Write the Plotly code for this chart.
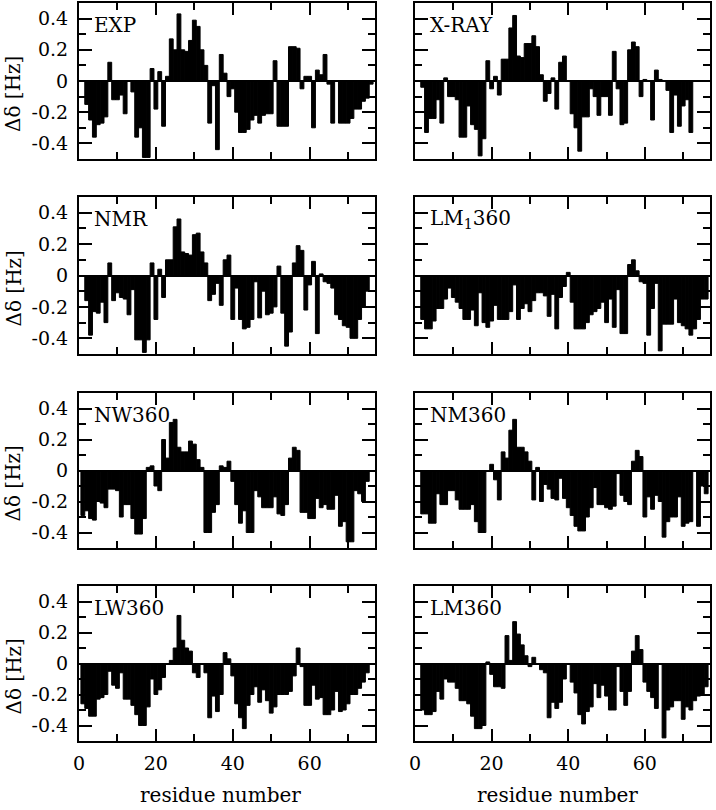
import plotly.graph_objects as go

# ---------------- data (residue numbers start at *_first) ----------------
exp_first = 2
exp_vals = [-0.15,-0.25,-0.36,-0.28,-0.27,-0.23,0.12,-0.12,-0.12,-0.09,
            -0.21,None,-0.07,-0.36,-0.30,-0.49,-0.49,0.08,-0.18,0.06,
            -0.29,0.03,0.27,0.20,0.43,0.20,0.19,0.26,0.39,0.35,
            0.20,0.10,-0.27,-0.03,-0.44,0.17,0.05,-0.10,-0.05,-0.20,
            -0.33,-0.33,-0.31,-0.25,-0.22,-0.27,-0.22,-0.21,-0.21,0.13,
            -0.29,-0.29,-0.29,0.22,0.22,0.21,-0.05,0.03,0.03,-0.30,
            0.07,0.04,0.17,-0.02,-0.27,None,-0.27,-0.27,-0.27,-0.24,
            -0.18,-0.18,-0.13,-0.11,-0.02]

xray_first = 2
xray_vals = [-0.04,-0.33,-0.24,-0.24,-0.12,-0.27,0.02,-0.10,-0.10,-0.12,
             -0.36,-0.36,-0.16,-0.28,-0.31,-0.48,-0.37,0.13,-0.05,0.03,
             -0.09,0.14,0.14,0.34,0.42,0.16,0.15,0.24,0.24,0.29,
             0.22,0.04,-0.13,-0.08,0.02,-0.18,0.12,0.16,None,-0.21,
             -0.30,-0.45,-0.23,-0.23,-0.05,-0.10,-0.22,-0.10,-0.10,-0.22,
             0.19,-0.05,-0.28,-0.27,0.20,0.25,0.22,-0.10,0.01,0.0,
             -0.25,0.07,0.01,None,-0.06,-0.33,-0.09,-0.29,-0.16,-0.12,
             -0.33]

nmr_first = 2
nmr_vals = [-0.16,-0.38,-0.23,-0.24,-0.17,-0.30,0.08,-0.16,-0.11,-0.14,
            -0.15,-0.25,-0.09,-0.41,-0.41,-0.49,-0.41,0.08,-0.28,0.04,
            -0.14,0.10,0.10,0.31,0.36,0.15,0.14,0.13,0.26,0.27,
            0.15,0.08,-0.16,-0.12,-0.05,-0.19,0.10,0.13,-0.28,-0.08,
            -0.28,-0.34,-0.33,-0.28,-0.04,-0.27,-0.10,-0.25,-0.24,-0.20,
            0.06,-0.24,-0.45,-0.36,0.08,0.19,0.16,-0.22,-0.06,0.09,
            -0.37,0.01,-0.04,-0.05,-0.08,-0.25,-0.28,-0.32,-0.33,-0.40,
            -0.40,-0.28,-0.20,-0.10]

lm1360_first = 2
lm1360_vals = [-0.28,-0.34,-0.34,-0.29,-0.21,-0.21,-0.15,-0.08,-0.14,-0.17,
               -0.21,-0.28,-0.28,-0.22,-0.32,-0.11,-0.30,-0.33,-0.29,-0.19,
               -0.28,-0.28,-0.28,-0.23,-0.06,-0.28,-0.21,-0.18,-0.23,-0.16,
               -0.11,-0.11,-0.13,-0.26,-0.12,-0.34,-0.14,-0.07,0.02,-0.17,
               -0.34,-0.34,-0.34,-0.30,-0.25,-0.23,-0.21,-0.17,-0.30,-0.15,
               -0.33,-0.09,-0.37,-0.37,0.07,0.10,0.03,-0.04,-0.05,-0.38,
               -0.21,-0.05,-0.48,-0.31,-0.31,-0.31,-0.15,-0.30,-0.32,-0.34,
               -0.38,-0.34,-0.28,-0.15,-0.15]

nw360_first = 1
nw360_vals = [-0.29,-0.26,-0.31,-0.32,-0.20,-0.21,-0.24,-0.12,-0.12,-0.13,
              -0.30,-0.22,-0.22,-0.31,-0.41,-0.41,-0.31,0.02,0.03,-0.10,
              -0.13,0.20,0.08,0.31,0.33,0.15,0.12,0.12,0.19,0.17,
              0.07,0.02,-0.40,-0.40,-0.27,-0.22,0.03,0.02,0.06,-0.07,
              -0.22,-0.34,-0.26,-0.40,-0.40,-0.13,-0.17,-0.24,-0.24,-0.24,
              -0.17,-0.28,-0.29,-0.22,0.08,0.15,0.13,-0.27,-0.27,-0.31,
              -0.31,-0.18,-0.24,-0.22,-0.25,-0.25,-0.16,-0.36,-0.33,-0.46,
              -0.46,-0.13,-0.15,-0.20,-0.07]

nm360_first = 2
nm360_vals = [-0.28,-0.28,-0.34,-0.34,-0.15,-0.22,-0.22,-0.13,-0.13,-0.19,
              -0.25,-0.25,-0.25,-0.22,-0.33,-0.40,-0.40,None,0.04,-0.06,
              -0.19,0.12,0.08,0.26,0.33,0.15,0.15,0.12,0.06,-0.19,
              0.02,-0.20,-0.09,-0.12,-0.18,-0.19,-0.05,-0.18,-0.24,-0.29,
              -0.36,-0.39,-0.39,-0.30,-0.24,-0.11,-0.22,-0.22,-0.24,-0.25,
              -0.23,-0.02,-0.16,-0.20,-0.22,0.06,0.13,0.09,-0.30,-0.17,
              -0.25,-0.16,-0.20,-0.43,-0.33,-0.30,-0.30,-0.17,-0.36,-0.34,
              -0.33,None,-0.36,-0.10,-0.15]

lw360_first = 1
lw360_vals = [-0.26,-0.29,-0.34,-0.34,-0.23,-0.22,-0.20,-0.05,-0.14,-0.16,
              -0.06,-0.23,-0.23,-0.27,-0.33,-0.40,-0.40,-0.28,-0.10,-0.20,
              -0.17,-0.09,None,0.02,0.10,0.31,0.15,0.10,0.08,-0.06,
              -0.09,None,-0.06,-0.35,-0.21,-0.31,-0.20,0.07,0.03,-0.08,
              -0.26,-0.35,-0.42,-0.27,-0.20,-0.15,-0.25,-0.17,-0.24,-0.32,
              -0.28,-0.20,-0.20,-0.20,-0.18,-0.08,0.10,-0.02,-0.27,-0.27,
              -0.14,-0.23,-0.22,-0.33,-0.33,-0.30,-0.18,-0.31,-0.30,-0.26,
              -0.20,-0.20,-0.16,-0.12,-0.06]

lm360_first = 2
lm360_vals = [-0.30,-0.33,-0.33,-0.31,-0.18,-0.23,-0.10,-0.12,-0.12,-0.16,
              -0.24,-0.24,-0.26,-0.34,-0.42,-0.42,-0.40,0.01,-0.07,-0.15,
              -0.15,-0.16,0.18,0.02,0.27,0.19,0.12,0.05,-0.02,0.04,
              None,-0.04,-0.06,-0.35,-0.25,-0.29,-0.25,-0.10,None,-0.12,
              -0.19,-0.33,-0.39,-0.31,-0.28,-0.13,-0.22,-0.14,-0.21,-0.30,
              -0.30,-0.02,-0.18,-0.27,-0.18,0.08,0.18,0.09,-0.12,-0.18,
              -0.22,-0.29,None,-0.48,-0.30,-0.28,-0.24,-0.24,-0.36,-0.28,
              -0.30,-0.24,-0.21,-0.20,-0.15]

panel_labels = ["EXP", "X-RAY", "NMR", "LM<sub>1</sub>360",
                "NW360", "NM360", "LW360", "LM360"]
panel_data = [(exp_first, exp_vals), (xray_first, xray_vals),
              (nmr_first, nmr_vals), (lm1360_first, lm1360_vals),
              (nw360_first, nw360_vals), (nm360_first, nm360_vals),
              (lw360_first, lw360_vals), (lm360_first, lm360_vals)]

x_ticks = [0, 20, 40, 60]
x_minor = [10, 30, 50, 70]
y_ticks = [-0.4, -0.2, 0, 0.2, 0.4]
y_ticktext = ["-0.4", "-0.2", "0", "0.2", "0.4"]
y_minor = [-0.3, -0.1, 0.1, 0.3]
y_title = "Δδ [Hz]"
x_title = "residue number"

# ---------------- layout geometry (pixels) ----------------
W, H = 716, 810
cols = [(79, 375), (415, 710)]
rows = [(3, 159), (197, 354), (393, 548), (586, 741)]
FONT = "DejaVu Serif"


def px(x):
    return x / W


def py(y):
    return 1 - y / H


fig = go.Figure()
layout = dict(width=W, height=H, margin=dict(l=0, r=0, t=0, b=0),
              paper_bgcolor="white", plot_bgcolor="white",
              showlegend=False, bargap=0, annotations=[])

for i, (first, vals) in enumerate(panel_data):
    r, c = divmod(i, 2)
    n = i + 1
    xa = "x" if n == 1 else f"x{n}"
    ya = "y" if n == 1 else f"y{n}"
    res = list(range(first, first + len(vals)))
    fig.add_trace(go.Bar(x=res, y=vals, width=1.0, xaxis=xa, yaxis=ya,
                         marker=dict(color="black",
                                     line=dict(color="black", width=1.0)),
                         hoverinfo="skip"))
    x0, x1 = cols[c]
    y0, y1 = rows[r]
    xkey = "xaxis" if n == 1 else f"xaxis{n}"
    ykey = "yaxis" if n == 1 else f"yaxis{n}"
    layout[xkey] = dict(
        domain=[px(x0), px(x1)], anchor=ya, range=[0, 77],
        showline=True, linecolor="black", linewidth=2, mirror="ticks",
        ticks="inside", ticklen=12, tickwidth=2, tickcolor="black",
        tickmode="array", tickvals=x_ticks,
        minor=dict(ticks="inside", ticklen=7, tickwidth=2,
                   tickcolor="black", tickvals=x_minor),
        showgrid=False, zeroline=False, automargin=False,
        showticklabels=(r == 3), ticklabelstandoff=4,
        tickfont=dict(family=FONT, size=19, color="black"),
        fixedrange=True)
    layout[ykey] = dict(
        domain=[py(y1), py(y0)], anchor=xa, range=[-0.5, 0.5],
        showline=True, linecolor="black", linewidth=2, mirror="ticks",
        ticks="inside", ticklen=13, tickwidth=2, tickcolor="black",
        tickmode="array", tickvals=y_ticks, ticktext=y_ticktext,
        minor=dict(ticks="inside", ticklen=7, tickwidth=2,
                   tickcolor="black", tickvals=y_minor),
        showgrid=False, zeroline=True, zerolinecolor="black",
        zerolinewidth=2, automargin=False,
        showticklabels=(c == 0), ticklabelstandoff=5,
        tickfont=dict(family=FONT, size=19, color="black"),
        fixedrange=True)
    # panel label
    lx = 92 if c == 0 else 428
    layout["annotations"].append(dict(
        text=panel_labels[i], x=px(lx), y=py(y0 + 22), xref="paper",
        yref="paper", xanchor="left", yanchor="middle", showarrow=False,
        font=dict(family=FONT, size=20, color="black")))
    if c == 0:
        layout["annotations"].append(dict(
            text=y_title, x=px(13), y=py((y0 + y1) / 2 + 13), xref="paper",
            yref="paper", xanchor="center", yanchor="middle",
            showarrow=False, textangle=-90,
            font=dict(family=FONT, size=20, color="black")))

for cx in (220, 557):
    layout["annotations"].append(dict(
        text=x_title, x=px(cx), y=py(795), xref="paper", yref="paper",
        xanchor="center", yanchor="middle", showarrow=False,
        font=dict(family=FONT, size=20, color="black")))

fig.update_layout(**layout)
fig.write_html("out.html",
               config={"displayModeBar": False, "staticPlot": True},
               post_script="document.body.style.margin='0';"
                           "document.body.style.overflow='hidden';")
